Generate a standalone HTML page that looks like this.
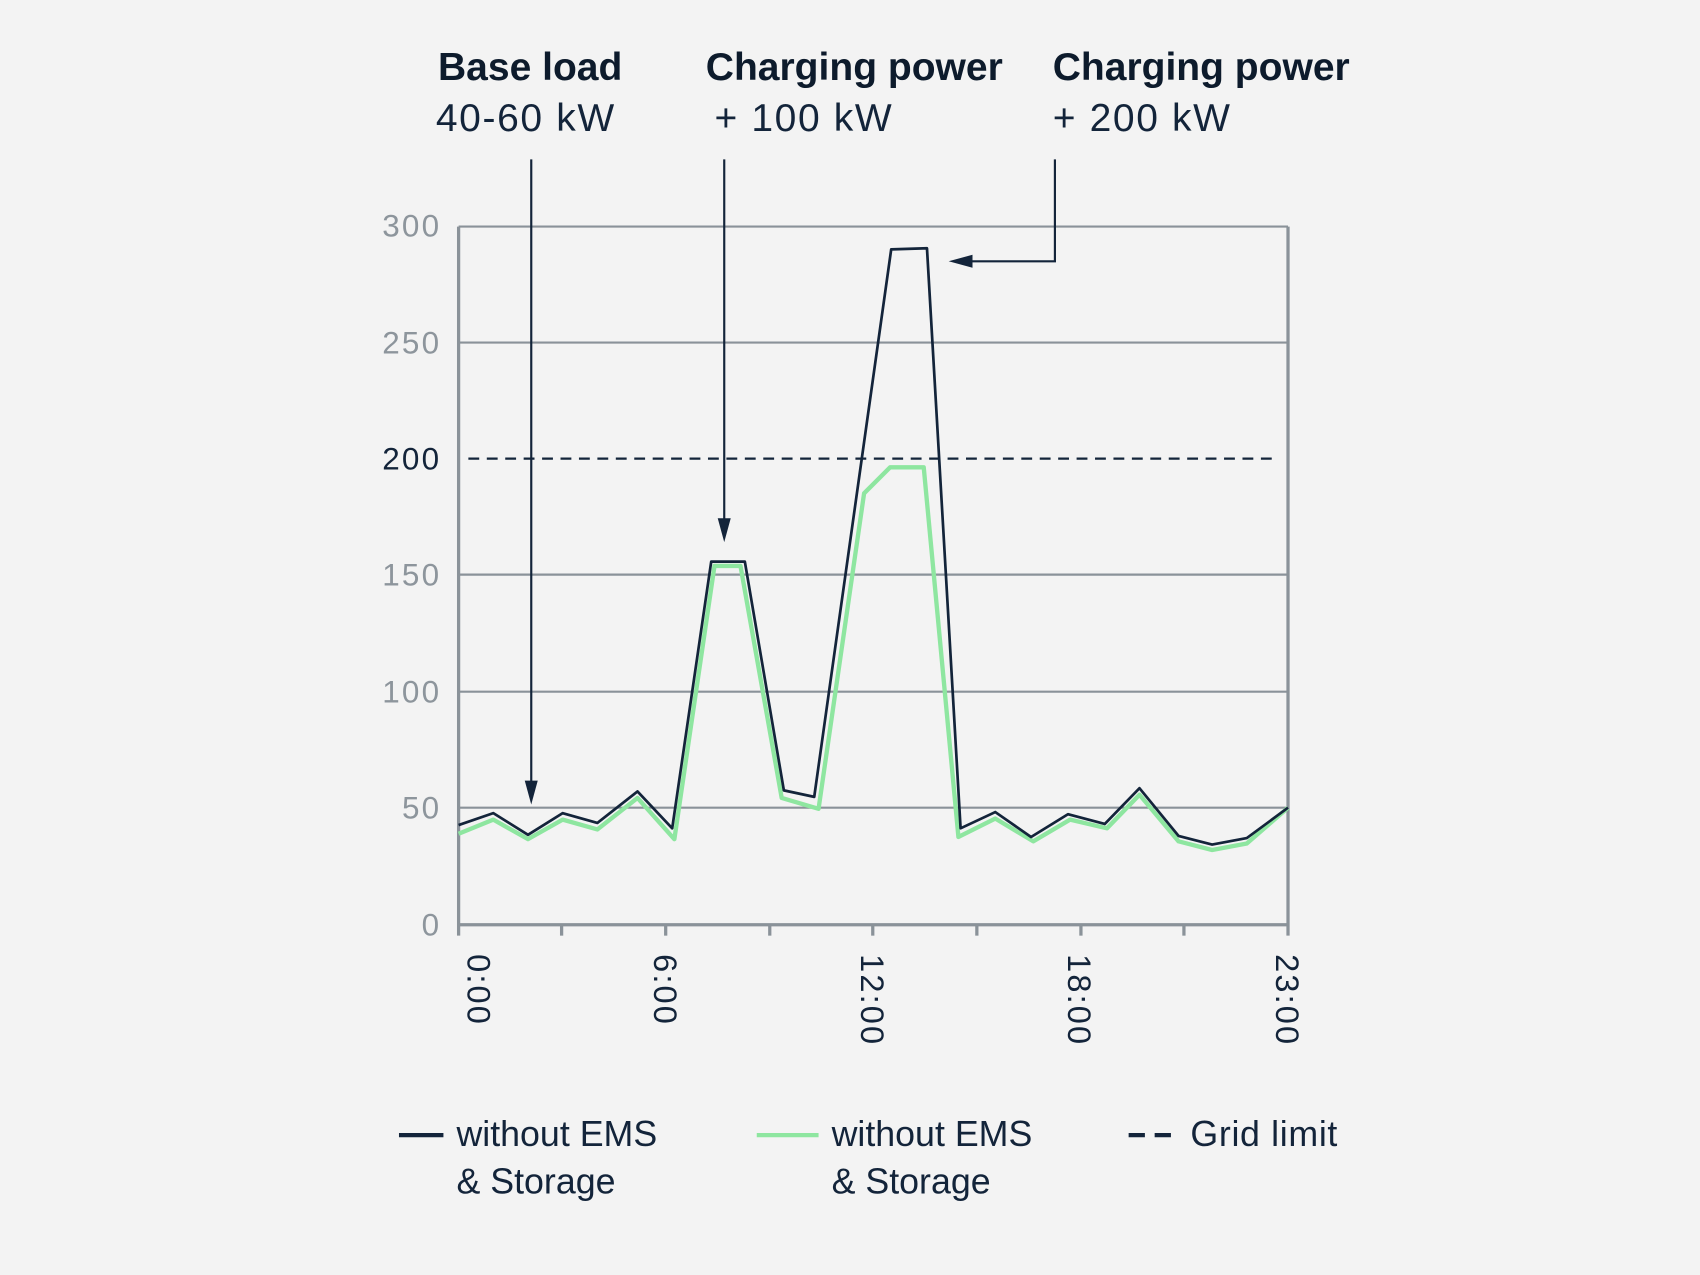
<!DOCTYPE html>
<html><head><meta charset="utf-8"><style>
html,body{margin:0;padding:0;background:#f3f3f3;}
svg{display:block;}
text{font-family:"Liberation Sans",sans-serif;}
</style></head><body>
<svg width="1700" height="1275" viewBox="0 0 1568 1176" xmlns="http://www.w3.org/2000/svg">
<rect width="1568" height="1176" fill="#f3f3f3"/>
<g stroke="#8a9299" stroke-width="2" fill="none">
<line x1="423" y1="209" x2="1188" y2="209"/>
<line x1="423" y1="316" x2="1188" y2="316"/>
<line x1="423" y1="530" x2="1188" y2="530"/>
<line x1="423" y1="638" x2="1188" y2="638"/>
<line x1="423" y1="745" x2="1188" y2="745"/>
<line x1="423" y1="853" x2="1188" y2="853" stroke-width="3"/>
<line x1="423" y1="209" x2="423" y2="863" stroke-width="3"/>
<line x1="1188" y1="209" x2="1188" y2="863" stroke-width="3"/>
<line x1="518" y1="853" x2="518" y2="863" stroke-width="3"/>
<line x1="614" y1="853" x2="614" y2="863" stroke-width="3"/>
<line x1="710" y1="853" x2="710" y2="863" stroke-width="3"/>
<line x1="805" y1="853" x2="805" y2="863" stroke-width="3"/>
<line x1="901" y1="853" x2="901" y2="863" stroke-width="3"/>
<line x1="997" y1="853" x2="997" y2="863" stroke-width="3"/>
<line x1="1092" y1="853" x2="1092" y2="863" stroke-width="3"/>
</g>
<line x1="432" y1="423" x2="1180" y2="423" stroke="#13243a" stroke-width="2" stroke-dasharray="10,7"/>
<g font-size="29" fill="#8d959c" text-anchor="end" letter-spacing="2">
<text x="407" y="218">300</text><text x="407" y="326">250</text>
<text x="407" y="433" fill="#13243a">200</text><text x="407" y="540">150</text>
<text x="407" y="648">100</text><text x="407" y="755">50</text><text x="407" y="863">0</text>
</g>
<g font-size="30" fill="#13243a" letter-spacing="2">
<text transform="translate(431,880) rotate(90)">0:00</text>
<text transform="translate(603,880) rotate(90)">6:00</text>
<text transform="translate(794,880) rotate(90)">12:00</text>
<text transform="translate(985,880) rotate(90)">18:00</text>
<text transform="translate(1177,880) rotate(90)">23:00</text>
</g>
<polyline fill="none" stroke="#8ee6a0" stroke-width="4" stroke-linejoin="round" points="423,769 455,756 487,774 519,756 551,765 588,736 622,774 659,522 683,522 721,736 755,746 797,455 821,431 852,431 884,772 918,755 953,776 987,756 1021,764 1051,733 1087,776 1118,784 1150,778 1188,745"/>
<polyline fill="none" stroke="#13243a" stroke-width="2.5" stroke-linejoin="round" points="423,761 455,750 487,770 519,750 551,759 588,730 620,764 656,518 687,518 723,729 751,735 822,230 855,229 886,764 918,749 951,772 985,751 1019,760 1051,727 1087,771 1118,779 1150,773 1188,745"/>
<g stroke="#13243a" stroke-width="2" fill="none">
<line x1="490" y1="147" x2="490" y2="728"/>
<line x1="668" y1="147" x2="668" y2="484"/>
<polyline points="973,147 973,241 892,241"/>
</g>
<g fill="#13243a">
<polygon points="484,720 496,720 490,742"/>
<polygon points="662,478 674,478 668,500"/>
<polygon points="897,235 897,247 875,241"/>
</g>
<g font-size="36" fill="#0d1b2c" font-weight="bold">
<text x="404" y="74">Base load</text>
<text x="651" y="74">Charging power</text>
<text x="971" y="74">Charging power</text>
</g>
<g font-size="36" fill="#13243a" letter-spacing="1.5">
<text x="402" y="121">40-60 kW</text>
<text x="659" y="121">+ 100 kW</text>
<text x="971" y="121">+ 200 kW</text>
</g>
<line x1="368" y1="1047" x2="409" y2="1047" stroke="#13243a" stroke-width="4"/>
<line x1="698" y1="1047" x2="755" y2="1047" stroke="#8ee6a0" stroke-width="4"/>
<line x1="1041" y1="1047" x2="1087" y2="1047" stroke="#13243a" stroke-width="4" stroke-dasharray="15,9"/>
<g font-size="33" fill="#13243a">
<text x="421" y="1057">without EMS</text><text x="421" y="1101">&amp; Storage</text>
<text x="767" y="1057">without EMS</text><text x="767" y="1101">&amp; Storage</text>
<text x="1098" y="1057" letter-spacing="0.6">Grid limit</text>
</g>
</svg>
</body></html>
